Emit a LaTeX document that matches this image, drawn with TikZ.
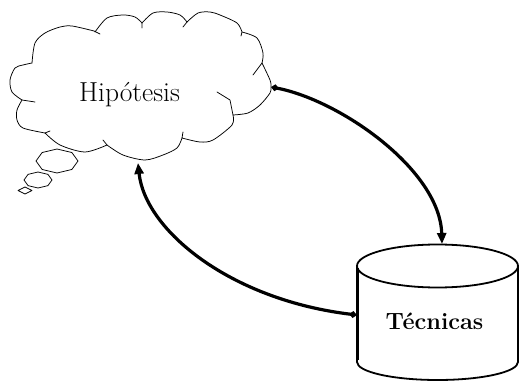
\documentclass[tikz,border=0pt]{standalone}
\usetikzlibrary{arrows.meta}
\begin{document}
\begin{tikzpicture}[x=1pt,y=-1pt,
  cloudline/.style={line width=0.75pt, line join=round, line cap=round},
  connector/.style={line width=3.2pt, line cap=round,
    arrows={Diamond[length=8pt,width=7pt]-Triangle[length=11pt,width=9pt]}},
  cylline/.style={line width=1.8pt, line join=round},
  lbl/.style={inner sep=0pt, anchor=base}]
\useasboundingbox (0,0) rectangle (520,382);

% thought cloud, lobe by lobe (each lobe ends with a short inner stroke)
\draw[cloudline] plot[smooth,tension=0.5] coordinates {(32,63) (35,43) (45,33) (60,27) (72,26) (94,31)} -- (100,34);
\draw[cloudline] plot[smooth,tension=0.5] coordinates {(95,32) (107,18) (123,15) (135,17) (142,23)} -- (142,28);
\draw[cloudline] plot[smooth,tension=0.5] coordinates {(142,23) (153,13) (167,12) (180,15) (187,22)} -- (183,27);
\draw[cloudline] plot[smooth,tension=0.5] coordinates {(187,22) (198,13) (210,12) (220,15) (237,23) (242,32)} -- (241,36);
\draw[cloudline] plot[smooth,tension=0.5] coordinates {(242,32) (257,38) (263,53) (262,63)} -- (253,75);
\draw[cloudline] plot[smooth,tension=0.5] coordinates {(262,63) (270,80) (271,87) (270,93) (260,105) (248,113) (233,115)}
  -- (230,100) -- (217,92);
\draw[cloudline] plot[smooth,tension=0.5] coordinates {(233,115) (232,125) (213,140) (200,142) (182,138)} -- (183,132);
\draw[cloudline] plot[smooth,tension=0.5] coordinates {(182,138) (177,148) (163,155) (145,160) (123,155) (107,145)} -- (103,140);
\draw[cloudline] plot[smooth,tension=0.5] coordinates {(107,145) (85,152) (60,145) (45,133)} -- (50,131);
\draw[cloudline] plot[smooth,tension=0.5] coordinates {(45,133) (23,128) (17,120) (17,110) (22,100)} -- (35,102);
\draw[cloudline] plot[smooth,tension=0.5] coordinates {(22,100) (12,92) (10,80) (15,68) (23,65) (32,63)};

% trailing thought bubbles
\draw[cloudline] plot[samples at={0,45,...,360}] ({57+21*cos(\x)},{161+12*sin(\x)});
\draw[cloudline] plot[samples at={0,45,...,360}] ({38+14*cos(\x)},{180+8*sin(\x)});
\draw[cloudline] plot[samples at={0,90,...,360}] ({25+7*cos(\x)},{190.5+3.5*sin(\x)});

\node[lbl, font=\fontsize{27.5}{32}\selectfont] (hip) at (129.5,102) {Hipótesis};

% cylinder
\draw[cylline] (437.5,266) ellipse [x radius=80.5, y radius=21.5];
\draw[cylline] (357,266) -- (357,362) arc[start angle=180, end angle=0, x radius=80.5, y radius=18] -- (518,266);
\draw[line width=3pt] (357,268) -- (357,360);

\node[lbl, font=\fontsize{23.5}{28}\selectfont\bfseries] (tec) at (434.5,330) {Técnicas};

% connection points
\coordinate (hipR) at (271,87);
\coordinate (hipB) at (138,163);
\coordinate (tecT) at (442,244);
\coordinate (tecL) at (357,315);

% connectors
\draw[connector] (hipR) .. controls (340,100) and (440,170) .. (tecT);
\draw[connector] (tecL) .. controls (230,300) and (145,230) .. (hipB);
\end{tikzpicture}
\end{document}
